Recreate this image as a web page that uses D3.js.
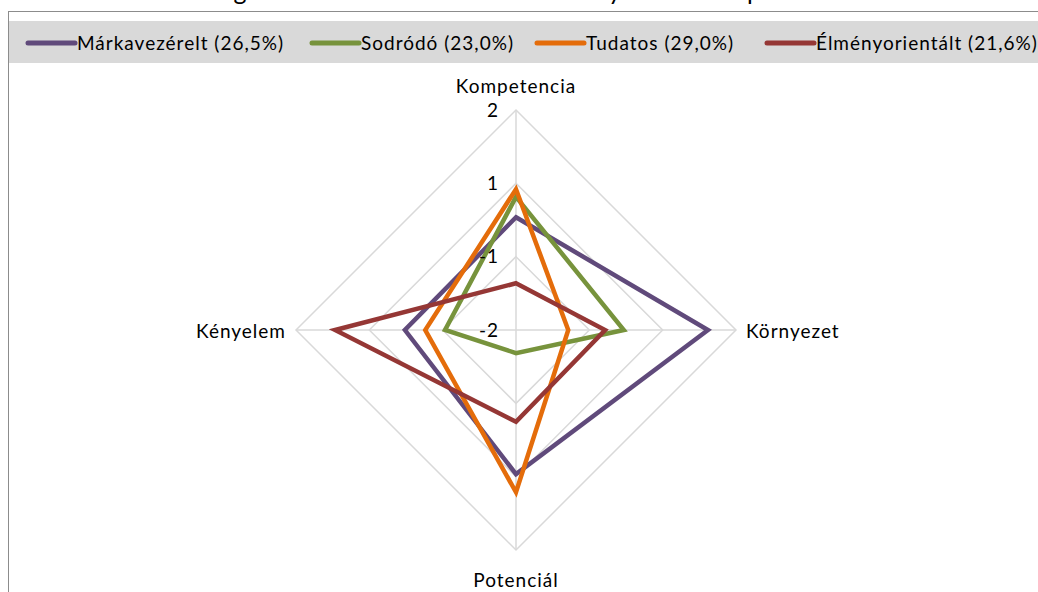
<!DOCTYPE html>
<html>
<head>
<meta charset="utf-8">
<script src="https://cdn.jsdelivr.net/npm/d3@7"></script>
<style>
  html, body { margin: 0; padding: 0; background: #fff; }
  svg { display: block; font-family: Lato, "Open Sans", sans-serif; }
</style>
</head>
<body>
<svg id="chart" width="1038" height="592"></svg>
<script>
// Radar axes, clockwise from the top
const axes = ["Kompetencia", "Környezet", "Potenciál", "Kényelem"];

// Segment names and shares
const segments = ["Márkavezérelt (26,5%)", "Sodródó (23,0%)", "Tudatos (29,0%)", "Élményorientált (21,6%)"];

// Mean scores per segment, in axis order
const markavezerelt   = [0.05, 1.49, 0.62, 0.02];
const sodrodo         = [0.42, -0.04, -1.58, -0.71];
const tudatos         = [0.56, -1.05, 0.95, -0.35];
const elmenyorientalt = [-1.15, -0.38, -0.33, 1.29];

// Ring values and their printed labels
const tickValues = [2, 2 / 3, -2 / 3, -2];
const tickLabels = ["2", "1", "-1", "-2"];

const colors = ["#604A7B", "#77933C", "#E46C0A", "#953735"];
const seriesValues = [markavezerelt, sodrodo, tudatos, elmenyorientalt];

const svg = d3.select("#chart");
const W = 1038, H = 592;
const cx = 516, cy = 330, R = 220;
const FS = 19, LS = 1;

// Chart frame
svg.append("rect")
  .attr("x", 8.5).attr("y", 11.5)
  .attr("width", W + 20).attr("height", H + 20)
  .attr("fill", "#fff").attr("stroke", "#8c8c8c").attr("stroke-width", 1);

// Title, clipped by the top edge of the page
svg.append("text")
  .attr("x", 196).attr("y", 0)
  .attr("font-size", 25)
  .attr("fill", "#000")
  .text("Szegmensek attitűdskála szerinti elhelyezkedése a pozícionálási térben");

// Legend band
const legendBand = svg.append("g");
legendBand.append("rect")
  .attr("x", 9).attr("y", 21).attr("width", W).attr("height", 42)
  .attr("fill", "#d9d9d9");

const legendX = [28, 312, 537, 767];
const legendItems = legendBand.selectAll("g.item").data(segments).join("g")
  .attr("class", "item")
  .attr("transform", (d, i) => `translate(${legendX[i]},43)`);
legendItems.append("line")
  .attr("x1", 0).attr("x2", 47).attr("y1", 0).attr("y2", 0)
  .attr("stroke", (d, i) => colors[i]).attr("stroke-width", 5)
  .attr("stroke-linecap", "round");
legendItems.append("text")
  .attr("x", 49).attr("y", 0).attr("dy", "0.35em")
  .attr("font-size", FS).attr("letter-spacing", LS).attr("fill", "#000")
  .text(d => d);

// Radial scale
const r = d3.scaleLinear().domain([-2, 2]).range([0, R]);
const angle = i => (i / axes.length) * 2 * Math.PI;
const pt = (v, i) => [cx + r(v) * Math.sin(angle(i)), cy - r(v) * Math.cos(angle(i))];

const grid = svg.append("g");
// Rings
tickValues.filter(v => v > -2).forEach(v => {
  grid.append("path")
    .attr("d", d3.line()(axes.map((a, i) => pt(v, i))) + "Z")
    .attr("fill", "none").attr("stroke", "#d9d9d9").attr("stroke-width", 1.5);
});
// Spokes
axes.forEach((a, i) => {
  const [x, y] = pt(2, i);
  grid.append("line")
    .attr("x1", cx).attr("y1", cy).attr("x2", x).attr("y2", y)
    .attr("stroke", "#d9d9d9").attr("stroke-width", 1.5);
});

// Series polygons
const lineGen = d3.line();
const seriesG = svg.append("g");
seriesValues.forEach((vals, s) => {
  seriesG.append("path")
    .attr("d", lineGen(vals.map((v, i) => pt(v, i))) + "Z")
    .attr("fill", "none")
    .attr("stroke", colors[s])
    .attr("stroke-width", 4.5)
    .attr("stroke-linejoin", "miter");
});

// Ring value labels along the top spoke
svg.append("g").selectAll("text").data(tickValues).join("text")
  .attr("x", cx - 17)
  .attr("y", v => pt(v, 0)[1])
  .attr("dy", "0.35em")
  .attr("text-anchor", "end")
  .attr("font-size", FS).attr("letter-spacing", LS).attr("fill", "#000")
  .text((v, i) => tickLabels[i]);

// Axis names
const labelPos = [
  { x: cx, y: cy - R - 24, anchor: "middle" },
  { x: cx + R + 10, y: cy + 1, anchor: "start" },
  { x: cx, y: cy + R + 30, anchor: "middle" },
  { x: cx - R - 10, y: cy + 1, anchor: "end" }
];
svg.append("g").selectAll("text").data(axes).join("text")
  .attr("x", (d, i) => labelPos[i].x)
  .attr("y", (d, i) => labelPos[i].y)
  .attr("dy", "0.35em")
  .attr("text-anchor", (d, i) => labelPos[i].anchor)
  .attr("font-size", FS).attr("letter-spacing", LS).attr("fill", "#000")
  .text(d => d);
</script>
</body>
</html>
